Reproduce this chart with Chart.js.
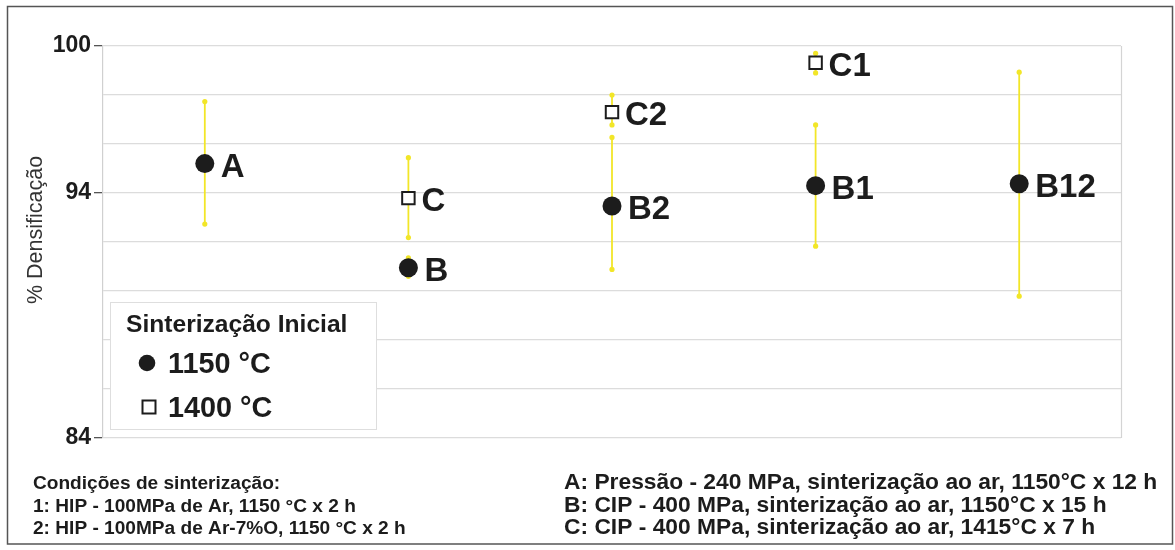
<!DOCTYPE html>
<html>
<head>
<meta charset="utf-8">
<script src="https://cdn.jsdelivr.net/npm/chart.js@4.4.1/dist/chart.umd.min.js"></script>
<style>
  html, body { margin: 0; padding: 0; background: #ffffff; }
  #wrap { position: relative; width: 1175px; height: 550px; }
</style>
</head>
<body>
<div id="wrap"><canvas id="chart" width="1175" height="550"></canvas></div>
<script>
// Sample groups along the horizontal axis
const categories = ['A', 'B / C', 'B2 / C2', 'B1 / C1', 'B12'];

// Initial sintering at 1150 °C (filled circles)
const series1150 = [95.2, 90.95, 93.47, 94.3, 94.38];
const low1150    = [92.73, 90.6, 90.88, 91.83, 89.79];
const high1150   = [97.73, 91.35, 96.27, 96.78, 98.93];
const names1150  = ['A', 'B', 'B2', 'B1', 'B12'];

// Initial sintering at 1400 °C (open squares)
const series1400 = [null, 93.79, 97.3, 99.32, null];
const low1400    = [null, 92.18, 96.78, 98.9, null];
const high1400   = [null, 95.44, 98.0, 99.7, null];
const names1400  = [null, 'C', 'C2', 'C1', null];

// Labelled values on the density axis
const yTickLabels = [84, 94, 100];

const legendTitle = 'Sinterização Inicial';
const yAxisTitle = '% Densificação';

const notesLeft = [
  'Condições de sinterização:',
  '1: HIP - 100MPa de Ar, 1150 °C x 2 h',
  '2: HIP - 100MPa de Ar-7%O, 1150 °C x 2 h'
];
const notesRight = [
  'A: Pressão - 240 MPa, sinterização ao ar, 1150°C x 12 h',
  'B: CIP - 400 MPa, sinterização ao ar, 1150°C x 15 h',
  'C: CIP - 400 MPa, sinterização ao ar, 1415°C x 7 h'
];

const FONT = '"Liberation Sans", Arial, Helvetica, sans-serif';
const INK = '#1c1c1c';
const BAR = 'rgb(242, 230, 40)';

const errorBounds = [
  { low: low1150, high: high1150 },
  { low: low1400, high: high1400 }
];
const pointNames = [names1150, names1400];
const labelGap = [16, 13];

// Yellow error bars behind the markers
const errorBarPlugin = {
  id: 'errorBars',
  beforeDatasetsDraw(chart) {
    const { ctx, scales: { y } } = chart;
    ctx.save();
    ctx.strokeStyle = BAR;
    ctx.fillStyle = BAR;
    ctx.lineWidth = 1.8;
    chart.data.datasets.forEach((ds, i) => {
      const meta = chart.getDatasetMeta(i);
      ds.data.forEach((v, j) => {
        if (v === null) return;
        const x = meta.data[j].x;
        const y1 = y.getPixelForValue(errorBounds[i].low[j]);
        const y2 = y.getPixelForValue(errorBounds[i].high[j]);
        ctx.beginPath();
        ctx.moveTo(x, y1);
        ctx.lineTo(x, y2);
        ctx.stroke();
        [y1, y2].forEach(yy => {
          ctx.beginPath();
          ctx.arc(x, yy, 2.6, 0, Math.PI * 2);
          ctx.fill();
        });
      });
    });
    ctx.restore();
  }
};

// Frame, axis title, point names, inner legend and notes
const decorPlugin = {
  id: 'decor',
  afterDatasetsDraw(chart) {
    const { ctx, chartArea } = chart;
    ctx.save();

    // right edge of the plot area
    ctx.strokeStyle = '#d4d4d4';
    ctx.lineWidth = 1.2;
    ctx.beginPath();
    ctx.moveTo(chartArea.right + 0.5, chartArea.top);
    ctx.lineTo(chartArea.right + 0.5, chartArea.bottom);
    ctx.stroke();

    // point names
    ctx.fillStyle = INK;
    ctx.font = 'bold 33px ' + FONT;
    ctx.textBaseline = 'alphabetic';
    ctx.textAlign = 'left';
    chart.data.datasets.forEach((ds, i) => {
      const meta = chart.getDatasetMeta(i);
      ds.data.forEach((v, j) => {
        if (v === null) return;
        const p = meta.data[j];
        ctx.fillText(pointNames[i][j], p.x + labelGap[i], p.y + 13);
      });
    });

    // legend box
    ctx.fillStyle = '#ffffff';
    ctx.fillRect(110, 302, 266, 127);
    ctx.strokeStyle = '#dedede';
    ctx.lineWidth = 1;
    ctx.strokeRect(110.5, 302.5, 266, 127);

    ctx.fillStyle = INK;
    ctx.font = 'bold 24.6px ' + FONT;
    ctx.fillText(legendTitle, 126, 332);

    ctx.beginPath();
    ctx.arc(147, 363, 8.3, 0, Math.PI * 2);
    ctx.fill();
    ctx.font = 'bold 28.8px ' + FONT;
    ctx.fillText(chart.data.datasets[0].label, 168, 373);

    ctx.strokeStyle = INK;
    ctx.lineWidth = 2;
    ctx.strokeRect(142.5, 400.5, 13, 13);
    ctx.fillText(chart.data.datasets[1].label, 168, 417);

    // y-axis title
    ctx.save();
    ctx.translate(42, 230);
    ctx.rotate(-Math.PI / 2);
    ctx.textAlign = 'center';
    ctx.fillStyle = '#333333';
    ctx.font = '21.5px ' + FONT;
    ctx.fillText(yAxisTitle, 0, 0);
    ctx.restore();

    // notes under the plot
    ctx.fillStyle = INK;
    ctx.font = 'bold 19.1px ' + FONT;
    notesLeft.forEach((t, k) => ctx.fillText(t, 33, 489 + k * 22.5));
    ctx.font = 'bold 22.8px ' + FONT;
    notesRight.forEach((t, k) => ctx.fillText(t, 564, 489 + k * 22.5));

    // outer frame
    ctx.strokeStyle = '#555555';
    ctx.lineWidth = 1.5;
    ctx.strokeRect(7.5, 6.5, 1165, 537.5);

    ctx.restore();
  }
};

new Chart(document.getElementById('chart'), {
  type: 'line',
  data: {
    labels: categories,
    datasets: [
      {
        label: '1150 °C',
        data: series1150,
        showLine: false,
        pointStyle: 'circle',
        pointRadius: 9.5,
        pointHoverRadius: 9.5,
        pointBackgroundColor: INK,
        pointBorderColor: INK,
        pointBorderWidth: 0
      },
      {
        label: '1400 °C',
        data: series1400,
        showLine: false,
        pointStyle: 'rect',
        pointRadius: 8.8,
        pointHoverRadius: 8.8,
        pointBackgroundColor: '#ffffff',
        pointBorderColor: INK,
        pointBorderWidth: 2
      }
    ]
  },
  options: {
    responsive: false,
    devicePixelRatio: 1,
    animation: false,
    events: [],
    layout: { padding: { left: 8, top: 46, right: 54, bottom: 112 } },
    plugins: {
      legend: { display: false },
      tooltip: { enabled: false }
    },
    scales: {
      x: {
        type: 'category',
        offset: true,
        display: false
      },
      y: {
        min: 84,
        max: 100,
        afterFit(scale) { scale.width = 95; },
        ticks: {
          stepSize: 2,
          padding: 3,
          color: INK,
          font: { family: FONT, size: 23, weight: 'bold' },
          callback: v => (yTickLabels.includes(v) ? String(v) : '')
        },
        grid: {
          color: '#dcdcdc',
          lineWidth: 1.3,
          drawTicks: true,
          tickLength: 9,
          tickWidth: 1.3,
          tickColor: ctx => (ctx.tick && yTickLabels.includes(ctx.tick.value) ? '#555555' : 'rgba(0,0,0,0)')
        },
        border: { display: true, color: '#d0d0d0', width: 1.2 }
      }
    }
  },
  plugins: [errorBarPlugin, decorPlugin]
});
</script>
</body>
</html>
